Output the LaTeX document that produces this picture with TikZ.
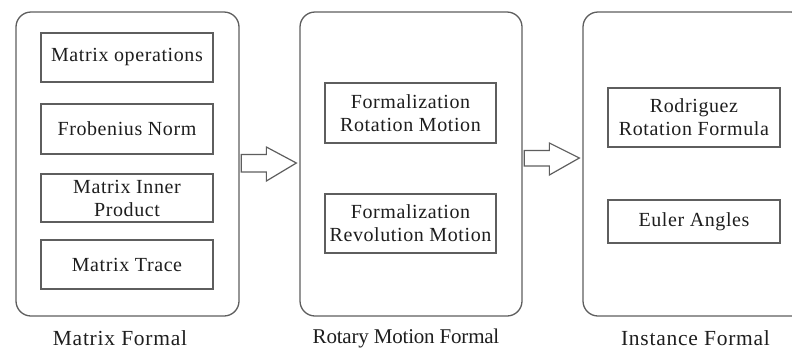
\documentclass[tikz,border=0pt]{standalone}
\usepackage{fontspec}
\setmainfont{Liberation Serif}
\usetikzlibrary{calc}
\definecolor{linegray}{HTML}{5E5E5E}
\definecolor{txt}{HTML}{1E1E1E}
\begin{document}
\begin{tikzpicture}[x=1pt,y=-1pt,
  panel/.style={draw=linegray,line width=1.3pt,rounded corners=15pt,inner sep=0pt,fill=white},
  item/.style={draw=linegray,line width=1.2pt,inner sep=0pt,align=center,text=txt,
    font=\fontsize{20}{23}\selectfont\addfontfeatures{LetterSpace=3}},
  caption/.style={text=txt,inner sep=0pt,
    font=\fontsize{21.5}{24}\selectfont\addfontfeatures{LetterSpace=3.5}},
  tightcaption/.style={text=txt,inner sep=0pt,
    font=\fontsize{21}{24}\selectfont\addfontfeatures{LetterSpace=-1}},
  blk/.style={draw=linegray,line width=1.2pt,fill=white,line join=miter}]
\useasboundingbox (0,0) rectangle (792,349);
\clip (0,0) rectangle (792,349);
\fill[white] (0,0) rectangle (792,349);
% panels
\node[panel,minimum width=223pt,minimum height=304pt] (p1) at (127.5,164) {};
\node[panel,minimum width=222pt,minimum height=304pt] (p2) at (411,164) {};
\node[panel,minimum width=223pt,minimum height=304pt] (p3) at (694.5,164) {};
% panel 1 items
\node[item,minimum width=172pt,minimum height=49pt] (m1) at (127,57.5) {Matrix operations};
\node[item,minimum width=172pt,minimum height=50pt] (m2) at (127,129) {Frobenius Norm};
\node[item,minimum width=172pt,minimum height=48pt] (m3) at (127,198) {Matrix Inner\\Product};
\node[item,minimum width=172pt,minimum height=49pt] (m4) at (127,264.5) {Matrix Trace};
% panel 2 items
\node[item,minimum width=171pt,minimum height=60pt] (r1) at (410.5,113) {Formalization\\Rotation Motion};
\node[item,minimum width=171pt,minimum height=59pt] (r2) at (410.5,223.5) {Formalization\\Revolution Motion};
% panel 3 items
\node[item,minimum width=172pt,minimum height=59pt] (i1) at (694,117.5) {Rodriguez\\Rotation Formula};
\node[item,minimum width=172pt,minimum height=43pt] (i2) at (694,221.5) {Euler Angles};
% captions
\node[caption] (c1) at (120,338) {Matrix Formal};
\node[tightcaption] (c2) at (406,338) {Rotary Motion Formal};
\node[caption] (c3) at (695.5,338) {Instance Formal};
% block arrows
\coordinate (a1s) at ($(p1.east)+(1.5,-1)$);
\coordinate (a1e) at ($(p2.west)+(-3,-1)$);
\draw[blk] ($(a1s)+(0,-8.5)$) -- ($(a1e)+(-30,-8.5)$) -- ($(a1e)+(-30,-16)$) -- (a1e)
  -- ($(a1e)+(-30,18)$) -- ($(a1e)+(-30,9)$) -- ($(a1s)+(0,9)$) -- cycle;
\coordinate (a2s) at ($(p2.east)+(1.5,-6)$);
\coordinate (a2e) at ($(p3.west)+(-3,-6)$);
\draw[blk] ($(a2s)+(0,-7.5)$) -- ($(a2e)+(-30,-7.5)$) -- ($(a2e)+(-30,-15)$) -- (a2e)
  -- ($(a2e)+(-30,17)$) -- ($(a2e)+(-30,8)$) -- ($(a2s)+(0,8)$) -- cycle;
\end{tikzpicture}
\end{document}
